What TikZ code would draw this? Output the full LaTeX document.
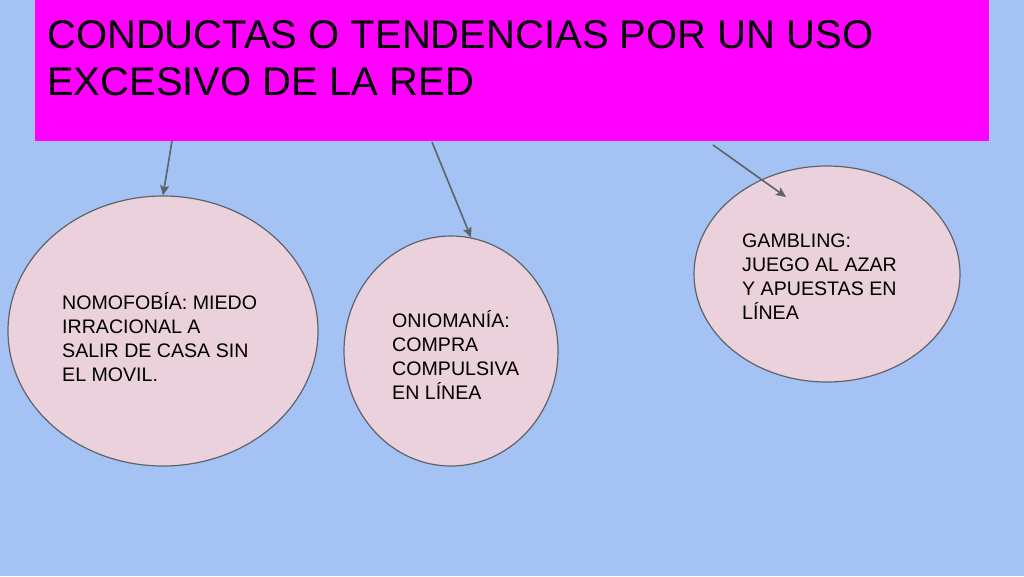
\documentclass[tikz,border=0pt]{standalone}
\usepackage{fontspec}
\setmainfont{Liberation Sans}
\usetikzlibrary{arrows.meta,shapes.geometric}
\definecolor{skyblue}{HTML}{A4C2F4}
\definecolor{bannerpink}{HTML}{FF00FF}
\definecolor{bubblepink}{HTML}{EAD1DC}
\definecolor{linegray}{HTML}{5F6368}

\begin{document}
\begin{tikzpicture}[x=1pt,y=-1pt,
  bubble/.style={ellipse,draw=linegray,line width=1.2pt,fill=bubblepink,inner sep=0pt},
  bubbletext/.style={anchor=west,align=left,inner sep=0pt,font=\fontsize{19.6}{24}\selectfont},
  link/.style={draw=linegray,line width=1.6pt,-{Stealth[length=10pt,width=9pt,inset=2pt]}}]
	%%%%% START %%%%%
	\fill[skyblue] (0,0) rectangle (1024,576);
	\node[fill=bannerpink,anchor=north west,minimum width=954pt,minimum height=141pt,inner sep=0pt] (banner) at (35,0) {};
	\node[anchor=west,align=left,inner sep=0pt,font=\fontsize{40}{47}\selectfont] (title) at (47,58.5) {CONDUCTAS O TENDENCIAS POR UN USO\\EXCESIVO DE LA RED};
	
	\node[bubble,minimum width=310pt,minimum height=270pt] (nomo) at (163,331) {};
	\node[bubbletext] (nomotext) at (62,337) {NOMOFOBÍA: MIEDO\\IRRACIONAL A\\SALIR DE CASA SIN\\EL MOVIL.};
	
	\node[bubble,minimum width=214pt,minimum height=230pt] (onio) at (451,351) {};
	\node[bubbletext] (oniotext) at (392,355) {ONIOMANÍA:\\COMPRA\\COMPULSIVA\\EN LÍNEA};
	
	\node[bubble,minimum width=266pt,minimum height=216pt] (gamb) at (827,274) {};
	\node[bubbletext] (gambtext) at (742,277) {GAMBLING:\\JUEGO AL AZAR\\Y APUESTAS EN\\LÍNEA};
	
	\coordinate (s1) at (172,141);
	\coordinate (s2) at (432,142);
	\coordinate (s3) at (713,145);
	\coordinate (g3) at (786,197);
	\draw[link] (s1) -- (nomo.north);
	\draw[link] (s2) -- (onio.80);
	\draw[link] (s3) -- (g3);
	%%%%% END %%%%%
\end{tikzpicture}
\end{document}
